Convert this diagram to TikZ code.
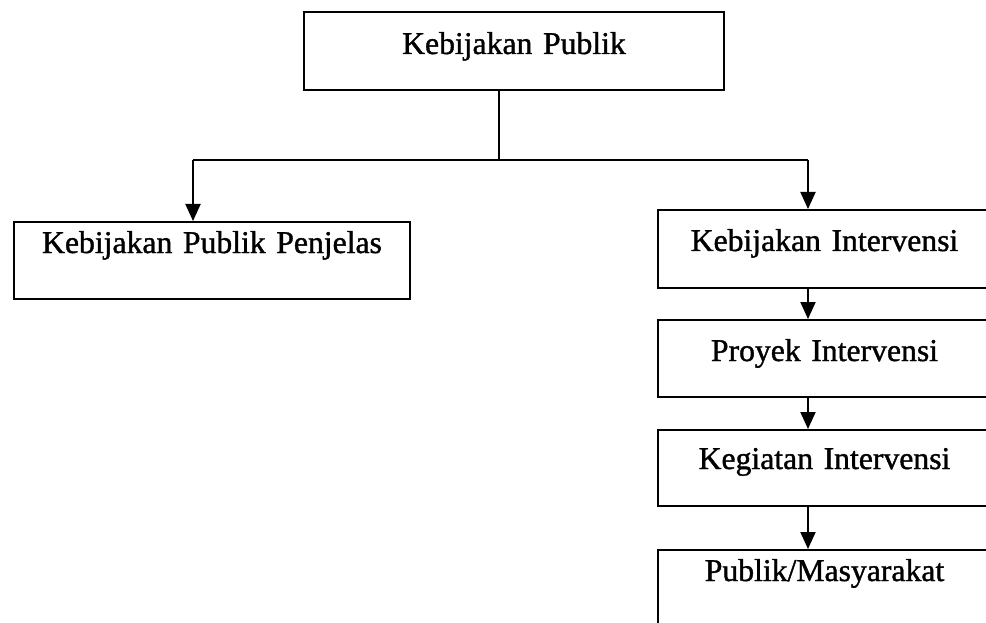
\documentclass[tikz,border=0pt]{standalone}
\usepackage{fontspec}
\setmainfont[WordSpace=0.85,FakeBold=1.2]{Liberation Serif}
\usetikzlibrary{arrows.meta}
\tikzset{
    kotak/.style={draw, line width=2pt, inner sep=0pt, anchor=north west, align=center,
        font=\fontsize{31.7}{38}\selectfont},
    garis/.style={line width=2pt},
    panah/.style={garis, -{Triangle[width=15pt,length=17pt]}}
}
\begin{document}
\begin{tikzpicture}[x=1pt,y=-1pt]
    \useasboundingbox (0,0) rectangle (986,623);

    \node[kotak, text width=420pt, text height=42pt, text depth=36pt] (publik) at (303,11) {Kebijakan Publik};
    \node[kotak, text width=396pt, text height=31pt, text depth=46pt] (penjelas) at (13,221) {Kebijakan Publik Penjelas};
    \node[kotak, text width=333pt, text height=41pt, text depth=37pt] (kebijakan) at (657,209) {Kebijakan Intervensi};
    \node[kotak, text width=333pt, text height=41pt, text depth=36pt] (proyek) at (657,319) {Proyek Intervensi};
    \node[kotak, text width=333pt, text height=39pt, text depth=37pt] (kegiatan) at (657,429) {Kegiatan Intervensi};
    \node[kotak, text width=333pt, text height=31pt, text depth=60pt] (masyarakat) at (657,549) {Publik/Masyarakat};

    \coordinate (cabang) at (499,160);
    \coordinate (kiri) at (193,160);
    \coordinate (kanan) at (808,160);

    \draw[garis] (publik.south -| cabang) -- (cabang);
    \draw[garis] (kiri) -- (kanan);
    \draw[panah] (kiri) -- (kiri |- penjelas.north);
    \draw[panah] (kanan) -- (kanan |- kebijakan.north);
    \draw[panah] (kebijakan.south -| kanan) -- (proyek.north -| kanan);
    \draw[panah] (proyek.south -| kanan) -- (kegiatan.north -| kanan);
    \draw[panah] (kegiatan.south -| kanan) -- (masyarakat.north -| kanan);
\end{tikzpicture}
\end{document}
